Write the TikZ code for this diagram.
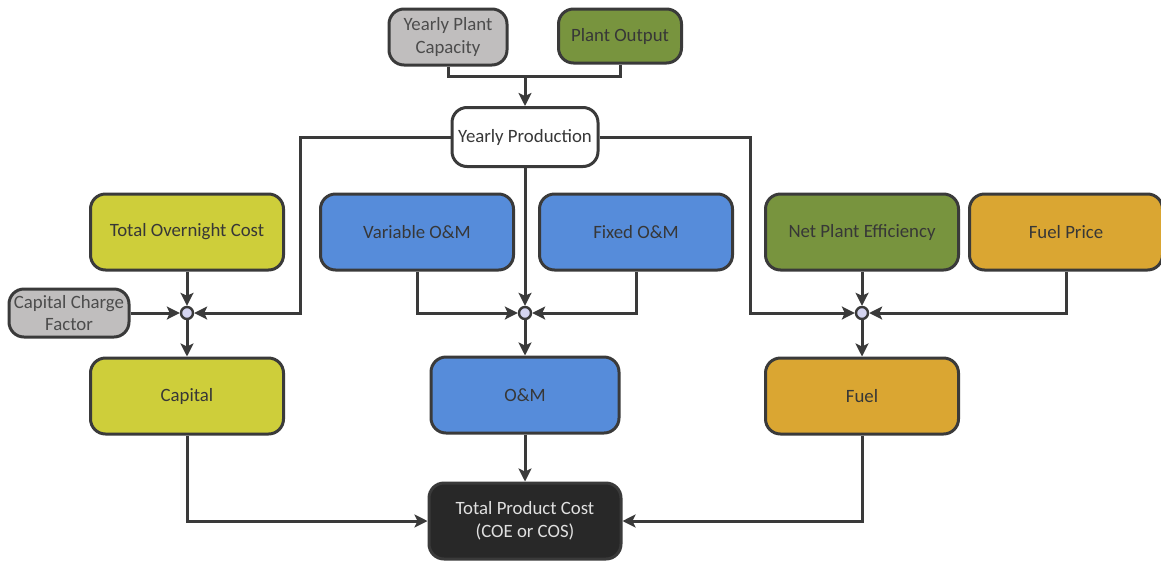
\documentclass[tikz,border=0pt]{standalone}
\usepackage{fontspec}
\setmainfont{Carlito}
\usetikzlibrary{arrows.meta}
\definecolor{edge}{RGB}{58,58,58}
\definecolor{txt}{RGB}{55,55,55}
\definecolor{greyfill}{RGB}{192,190,190}
\definecolor{greenfill}{RGB}{120,148,62}
\definecolor{yellowfill}{RGB}{206,206,58}
\definecolor{bluefill}{RGB}{86,140,218}
\definecolor{orangefill}{RGB}{218,166,50}
\definecolor{darkfill}{RGB}{40,40,40}
\definecolor{joinfill}{RGB}{212,212,240}
\begin{document}
\begin{tikzpicture}[x=1pt,y=-1pt,
  box/.style={draw=edge, line width=3pt, rounded corners=15pt, align=center,
    text=txt, font=\fontsize{18.8}{22.5}\selectfont, inner sep=2pt},
  bigbox/.style={box, minimum width=193pt, minimum height=76pt},
  junction/.style={circle, draw=edge, line width=2.4pt, fill=joinfill, minimum size=12pt, inner sep=0pt},
  wire/.style={draw=edge, line width=3pt},
  feed/.style={wire, -{Stealth[length=13pt,width=13pt,inset=3pt]}}]
\useasboundingbox (0,0) rectangle (1161,563);

% top inputs
\node[box, fill=greyfill, text=black!70, minimum width=118pt, minimum height=56pt] (ypc) at (448,37) {Yearly Plant\\Capacity};
\node[box, fill=greenfill, minimum width=123pt, minimum height=54pt] (po) at (620,36) {Plant Output};
\node[box, fill=white, minimum width=146pt, minimum height=59pt] (yp) at (525,137) {Yearly Production};

% second row
\node[bigbox, fill=yellowfill] (toc) at (187,232) {Total Overnight Cost};
\node[bigbox, fill=bluefill] (vom) at (417,232) {Variable O\&M};
\node[bigbox, fill=bluefill] (fom) at (636,232) {Fixed O\&M};
\node[bigbox, fill=greenfill] (npe) at (862,232) {Net Plant Efficiency};
\node[bigbox, fill=orangefill] (fp) at (1066,232) {Fuel Price};

\node[box, fill=greyfill, text=black!70, minimum width=120pt, minimum height=48pt] (ccf) at (69,313) {Capital Charge\\Factor};

% junctions
\node[junction] (jc) at (187,313) {};
\node[junction] (jo) at (525,313) {};
\node[junction] (jf) at (862,313) {};

% third row
\node[bigbox, fill=yellowfill] (cap) at (187,396) {Capital};
\node[bigbox, fill=bluefill, minimum width=188pt] (om) at (525,395) {O\&M};
\node[bigbox, fill=orangefill] (fuel) at (862,396) {Fuel};

\node[box, fill=darkfill, text=white!88!black, minimum width=192pt, minimum height=76pt] (tpc) at (525,521) {Total Product Cost\\(COE or COS)};

% routing points
\coordinate (merge) at (525,76);
\coordinate (ypl) at (300,313);
\coordinate (ypr) at (750,313);

% connectors
\draw[wire] (ypc.south) |- (merge) -| (po.south);
\draw[feed] (merge) -- (yp.north);

\draw[feed] (yp.west) -| (ypl) -- (jc);
\draw[feed] (toc.south) -- (jc);
\draw[feed] (ccf.east) -- (jc);
\draw[feed] (jc) -- (cap.north);

\draw[feed] (yp.south) -- (jo);
\draw[feed] (vom.south) |- (jo);
\draw[feed] (fom.south) |- (jo);
\draw[feed] (jo) -- (om.north);

\draw[feed] (yp.east) -| (ypr) -- (jf);
\draw[feed] (npe.south) -- (jf);
\draw[feed] (fp.south) |- (jf);
\draw[feed] (jf) -- (fuel.north);

\draw[feed] (cap.south) |- (tpc.west);
\draw[feed] (om.south) -- (tpc.north);
\draw[feed] (fuel.south) |- (tpc.east);
\end{tikzpicture}
\end{document}
